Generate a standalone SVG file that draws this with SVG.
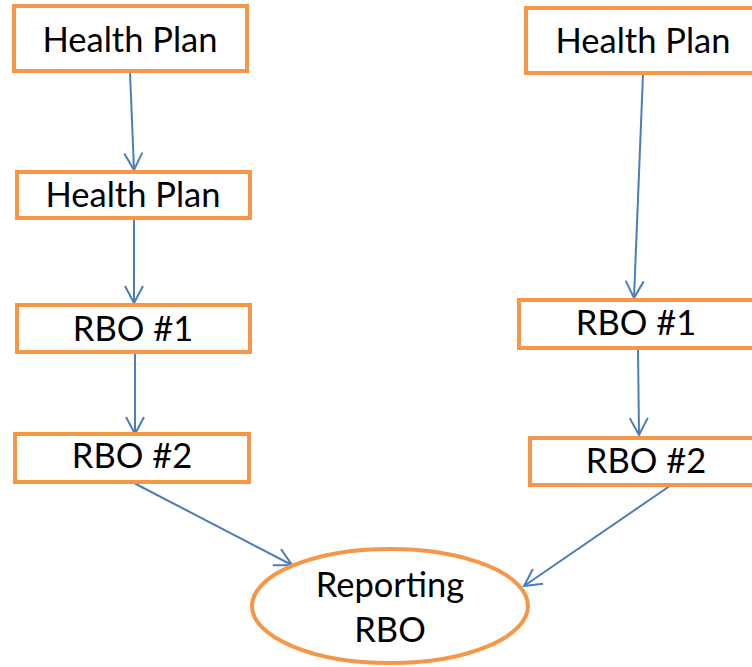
<svg xmlns="http://www.w3.org/2000/svg" width="752" height="667" viewBox="0 0 752 667">
<defs>
<marker id="arr" viewBox="0 0 20 20" refX="18" refY="10" markerWidth="20" markerHeight="20" markerUnits="userSpaceOnUse" orient="auto">
<path d="M1,1 L18,10 L1,19" fill="none" stroke="#4A7EBB" stroke-width="2"/>
</marker>
<style>
.box{fill:#fff;stroke:#F79646;stroke-width:4}
.t{font-family:Lato,"Open Sans","Liberation Sans",sans-serif;font-size:34.5px;fill:#000;text-anchor:middle}
.c{stroke:#4A7EBB;stroke-width:2;fill:none;marker-end:url(#arr)}
</style>
</defs>
<rect width="752" height="667" fill="#fff"/>
<g id="connectors">
<line class="c" x1="130" y1="72" x2="134" y2="170"/>
<line class="c" x1="134" y1="219" x2="134" y2="303"/>
<line class="c" x1="135" y1="353" x2="135" y2="434"/>
<line class="c" x1="132" y1="482" x2="292" y2="565"/>
<line class="c" x1="643" y1="74" x2="634" y2="298"/>
<line class="c" x1="638" y1="349" x2="639" y2="435"/>
<line class="c" x1="677" y1="481" x2="524" y2="586"/>
</g>
<g id="hp-left-1"><rect class="box" x="14" y="6" width="233" height="65"/><text class="t" x="130" y="52">Health Plan</text></g>
<g id="hp-left-2"><rect class="box" x="17" y="172" width="233" height="46"/><text class="t" x="133" y="207">Health Plan</text></g>
<g id="rbo1-left"><rect class="box" x="17" y="305" width="233" height="47"/><text class="t" x="133" y="341">RBO #1</text></g>
<g id="rbo2-left"><rect class="box" x="15" y="434" width="234" height="48"/><text class="t" x="132" y="468">RBO #2</text></g>
<g id="hp-right"><rect class="box" x="526" y="8" width="236" height="65"/><text class="t" x="643" y="53">Health Plan</text></g>
<g id="rbo1-right"><rect class="box" x="519" y="300" width="236" height="48"/><text class="t" x="636" y="335">RBO #1</text></g>
<g id="rbo2-right"><rect class="box" x="530" y="438" width="234" height="47"/><text class="t" x="646" y="473">RBO #2</text></g>
<g id="reporting-rbo"><ellipse cx="390" cy="606" rx="138" ry="57" fill="#fff" stroke="#F79646" stroke-width="4"/><text class="t" x="390" y="597">Reporting</text><text class="t" x="390" y="642">RBO</text></g>
</svg>
